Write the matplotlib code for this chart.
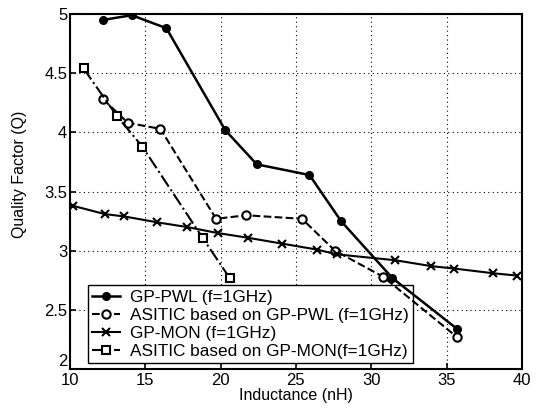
import matplotlib
matplotlib.use("Agg")
import matplotlib.pyplot as plt

plt.rcParams['font.family'] = ['Liberation Sans', 'DejaVu Sans']

# GP-PWL (f=1GHz)
pwl_x = [12.2, 14.1, 16.4, 20.3, 22.4, 25.9, 28.0, 31.4, 35.7]
pwl_q = [4.95, 4.99, 4.88, 4.02, 3.73, 3.64, 3.25, 2.77, 2.34]

# ASITIC based on GP-PWL
asp_x = [12.2, 13.85, 16.0, 19.7, 21.7, 25.4, 27.6, 30.8, 35.7]
asp_q = [4.28, 4.08, 4.03, 3.27, 3.30, 3.27, 3.00, 2.78, 2.27]

# GP-MON (f=1GHz)
mon_x = [10.2, 12.3, 13.6, 15.8, 17.8, 19.8, 21.8, 24.1, 26.4, 27.7, 31.6, 34.0, 35.5, 38.1, 39.7]
mon_q = [3.38, 3.31, 3.29, 3.24, 3.20, 3.15, 3.11, 3.06, 3.01, 2.97, 2.92, 2.87, 2.85, 2.81, 2.79]

# ASITIC based on GP-MON
asm_x = [10.9, 13.1, 14.8, 18.8, 20.6]
asm_q = [4.54, 4.14, 3.88, 3.11, 2.77]

fig = plt.figure(figsize=(5.36, 4.12), dpi=100)
ax = fig.add_axes([0.1306, 0.104, 0.843, 0.862])

ax.plot(pwl_x, pwl_q, color='black', linestyle='-', linewidth=1.8,
        marker='o', markersize=5.5, label='GP-PWL (f=1GHz)')
ax.plot(asp_x, asp_q, color='black', linestyle='--', linewidth=1.5,
        marker='o', markersize=6, markerfacecolor='white', markeredgewidth=1.5,
        label='ASITIC based on GP-PWL (f=1GHz)')
ax.plot(mon_x, mon_q, color='black', linestyle='-', linewidth=1.5,
        marker='x', markersize=6, markeredgewidth=1.5, label='GP-MON (f=1GHz)')
ax.plot(asm_x, asm_q, color='black', linestyle='-.', linewidth=1.5,
        marker='s', markersize=5.5, markerfacecolor='white', markeredgewidth=1.5,
        label='ASITIC based on GP-MON(f=1GHz)')

ax.set_xlim(10, 40)
ax.set_ylim(2, 5)
ax.set_xticks([10, 15, 20, 25, 30, 35, 40])
ax.set_yticks([2, 2.5, 3, 3.5, 4, 4.5, 5])
ax.set_yticklabels(['2', '2.5', '3', '3.5', '4', '4.5', '5'])
ax.tick_params(direction='in', labelsize=12, length=4, width=1.2, pad=2)
ax.tick_params(axis='x', pad=3)
# bottom y label sits just above the axis, as in the original
ax.get_yticklabels()[0].set_va('bottom')
ax.grid(True, linestyle=(0, (1, 3)), color='black', linewidth=0.8)
for s in ax.spines.values():
    s.set_linewidth(1.5)

ax.set_xlabel('Inductance (nH)', fontsize=11.5, labelpad=0)
ax.set_ylabel('Quality Factor (Q)', fontsize=11.5)
ax.yaxis.set_label_coords(-0.095, 0.55)

leg = ax.legend(loc='lower left', bbox_to_anchor=(0.04, 0.017), fontsize=12.4,
                frameon=True, fancybox=False, edgecolor='black', framealpha=1,
                borderpad=0.25, labelspacing=0.17, handlelength=1.6, handletextpad=0.6,
                borderaxespad=0)
leg.get_frame().set_linewidth(1.0)
# curves run over the legend's corner in the original, grid stays hidden
leg.set_zorder(1.8)

plt.savefig('out.png', dpi=100)
